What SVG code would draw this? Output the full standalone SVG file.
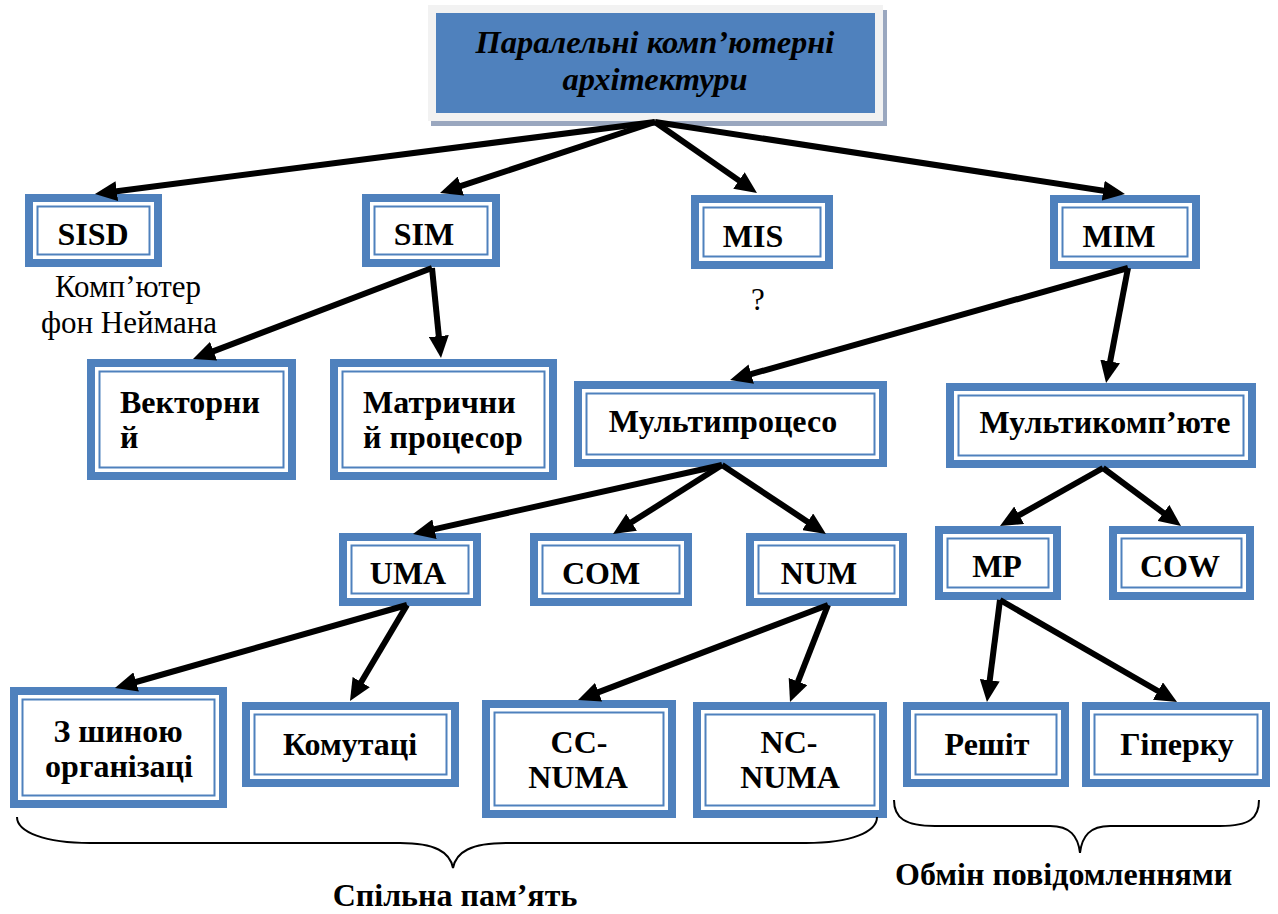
<svg xmlns="http://www.w3.org/2000/svg" width="1278" height="914" viewBox="0 0 1278 914">
<style>
.o{fill:#fff;stroke:#4F81BD;stroke-width:8}
.i{fill:none;stroke:#4F81BD;stroke-width:2}
.t{font-family:"Liberation Serif","Times New Roman",Times,"DejaVu Serif",serif;font-weight:bold;font-size:32px;fill:#000}
.c{text-anchor:middle}
.r{font-family:"Liberation Serif","Times New Roman",Times,"DejaVu Serif",serif;font-size:31px;fill:#000;text-anchor:middle}
.ti{font-family:"Liberation Serif","Times New Roman",Times,"DejaVu Serif",serif;font-weight:bold;font-style:italic;font-size:32.5px;fill:#000;text-anchor:middle}
.a{stroke:#000;stroke-width:6;fill:none;marker-end:url(#ah)}
.br{stroke:#000;stroke-width:2;fill:none}
</style>
<defs>
<marker id="ah" markerUnits="userSpaceOnUse" markerWidth="22" markerHeight="20" viewBox="0 0 22 20" refX="2" refY="10" orient="auto"><path d="M0,0 L22,10 L0,20 z" fill="#000"/></marker>
</defs>
<rect width="1278" height="914" fill="#fff"/>

<g id="root">
<rect x="431" y="10" width="456" height="116" fill="#9AA7BF"/>
<rect x="428" y="5" width="455" height="116" fill="#F2F2F2"/>
<rect x="436" y="13" width="439" height="100" fill="#4F81BD"/>
<text class="ti" x="655" y="53">Паралельні комп’ютерні</text>
<text class="ti" x="655" y="90">архітектури</text>
</g>

<g id="sisd">
<rect class="o" x="29" y="198" width="129" height="65"/>
<rect class="i" x="37.5" y="206.5" width="112" height="48"/>
<text class="t c" x="93" y="245">SISD</text>
</g>
<g id="sisd-note">
<text class="r" x="128" y="297">Комп’ютер</text>
<text class="r" x="129" y="333">фон Неймана</text>
</g>
<g id="sim">
<rect class="o" x="366" y="198" width="130" height="65"/>
<rect class="i" x="374.5" y="206.5" width="113" height="48"/>
<text class="t c" x="424" y="245">SIM</text>
</g>
<g id="mis">
<rect class="o" x="695" y="199" width="134" height="66"/>
<rect class="i" x="703.5" y="207.5" width="117" height="49"/>
<text class="t c" x="753" y="247">MIS</text>
</g>
<g id="mis-note">
<text class="r" x="758" y="310">?</text>
</g>
<g id="mim">
<rect class="o" x="1054" y="199" width="142" height="66"/>
<rect class="i" x="1062.5" y="207.5" width="125" height="49"/>
<text class="t c" x="1119" y="247">MIM</text>
</g>

<g id="vector">
<rect class="o" x="91" y="363" width="201" height="113"/>
<rect class="i" x="99.5" y="371.5" width="184" height="96"/>
<text class="t" x="120" y="413">Векторни</text>
<text class="t" x="120" y="448">й</text>
</g>
<g id="matrix">
<rect class="o" x="334" y="363" width="219" height="113"/>
<rect class="i" x="342.5" y="371.5" width="202" height="96"/>
<text class="t" x="363" y="413">Матрични</text>
<text class="t" x="363" y="448">й процесор</text>
</g>
<g id="multiproc">
<rect class="o" x="578" y="385" width="305" height="78"/>
<rect class="i" x="586.5" y="393.5" width="288" height="61"/>
<text class="t c" x="723" y="432">Мультипроцесо</text>
</g>
<g id="multicomp">
<rect class="o" x="950" y="387" width="302" height="77"/>
<rect class="i" x="958.5" y="395.5" width="285" height="60"/>
<text class="t c" x="1105" y="433">Мультикомп’юте</text>
</g>

<g id="uma">
<rect class="o" x="343" y="537" width="134" height="65"/>
<rect class="i" x="351.5" y="545.5" width="117" height="48"/>
<text class="t c" x="408" y="584">UMA</text>
</g>
<g id="com">
<rect class="o" x="534" y="537" width="154" height="65"/>
<rect class="i" x="542.5" y="545.5" width="137" height="48"/>
<text class="t c" x="601" y="584">COM</text>
</g>
<g id="num">
<rect class="o" x="750" y="537" width="153" height="65"/>
<rect class="i" x="758.5" y="545.5" width="136" height="48"/>
<text class="t c" x="819" y="584">NUM</text>
</g>
<g id="mp">
<rect class="o" x="939" y="530" width="118" height="66"/>
<rect class="i" x="947.5" y="538.5" width="101" height="49"/>
<text class="t c" x="997" y="577">MP</text>
</g>
<g id="cow">
<rect class="o" x="1113" y="530" width="137" height="66"/>
<rect class="i" x="1121.5" y="538.5" width="120" height="49"/>
<text class="t c" x="1180" y="577">COW</text>
</g>

<g id="bus">
<rect class="o" x="14" y="691" width="209" height="113"/>
<rect class="i" x="22.5" y="699.5" width="192" height="96"/>
<text class="t c" x="118" y="742">З шиною</text>
<text class="t c" x="119" y="777">організаці</text>
</g>
<g id="switch">
<rect class="o" x="246" y="706" width="209" height="77"/>
<rect class="i" x="254.5" y="714.5" width="192" height="60"/>
<text class="t c" x="350" y="755">Комутаці</text>
</g>
<g id="ccnuma">
<rect class="o" x="486" y="704" width="186" height="110"/>
<rect class="i" x="494.5" y="712.5" width="169" height="93"/>
<text class="t c" x="579" y="753">CC-</text>
<text class="t c" x="578" y="788">NUMA</text>
</g>
<g id="ncnuma">
<rect class="o" x="697" y="706" width="186" height="108"/>
<rect class="i" x="705.5" y="714.5" width="169" height="91"/>
<text class="t c" x="789" y="753">NC-</text>
<text class="t c" x="790" y="788">NUMA</text>
</g>
<g id="mesh">
<rect class="o" x="907" y="706" width="158" height="77"/>
<rect class="i" x="915.5" y="714.5" width="141" height="60"/>
<text class="t c" x="987" y="755">Решіт</text>
</g>
<g id="hypercube">
<rect class="o" x="1086" y="706" width="180" height="77"/>
<rect class="i" x="1094.5" y="714.5" width="163" height="60"/>
<text class="t c" x="1177" y="755">Гіперку</text>
</g>

<g id="connectors">
<line class="a" x1="655" y1="122" x2="114.8" y2="191.4"/>
<line class="a" x1="655" y1="122" x2="459" y2="186.7"/>
<line class="a" x1="655" y1="122" x2="740.6" y2="181.6"/>
<line class="a" x1="655" y1="122" x2="1105.2" y2="191"/>
<line class="a" x1="432" y1="268" x2="211.7" y2="351.9"/>
<line class="a" x1="432" y1="268" x2="439" y2="338.1"/>
<line class="a" x1="1128" y1="268" x2="749.3" y2="374.6"/>
<line class="a" x1="1128" y1="268" x2="1109.8" y2="363.4"/>
<line class="a" x1="722" y1="465" x2="432.5" y2="529.6"/>
<line class="a" x1="722" y1="465" x2="629.9" y2="523.3"/>
<line class="a" x1="722" y1="465" x2="809.3" y2="522.9"/>
<line class="a" x1="1103" y1="468" x2="1017.4" y2="516.2"/>
<line class="a" x1="1103" y1="468" x2="1165" y2="514.1"/>
<line class="a" x1="407" y1="605" x2="134.2" y2="682.5"/>
<line class="a" x1="407" y1="605" x2="360.2" y2="683.8"/>
<line class="a" x1="828" y1="605" x2="596.7" y2="692.9"/>
<line class="a" x1="828" y1="605" x2="797.3" y2="683.4"/>
<line class="a" x1="1000" y1="600" x2="989.5" y2="682.2"/>
<line class="a" x1="1000" y1="600" x2="1159.7" y2="692"/>
</g>

<g id="shared-memory">
<path class="br" d="M17,817 C17,832 45,843 90,843 L400,843 C435,843 450,852 453,868 C456,852 471,843 506,843 L806,843 C851,843 877,832 877,817"/>
<text class="t c" x="455" y="906">Спільна пам’ять</text>
</g>
<g id="message-passing">
<path class="br" d="M894,800 C894,818 905,826 935,826 L1050,826 C1070,826 1078,836 1080,853 C1082,836 1090,826 1110,826 L1220,826 C1250,826 1259,818 1259,800"/>
<text class="t" x="895" y="885">Обмін повідомленнями</text>
</g>
</svg>
